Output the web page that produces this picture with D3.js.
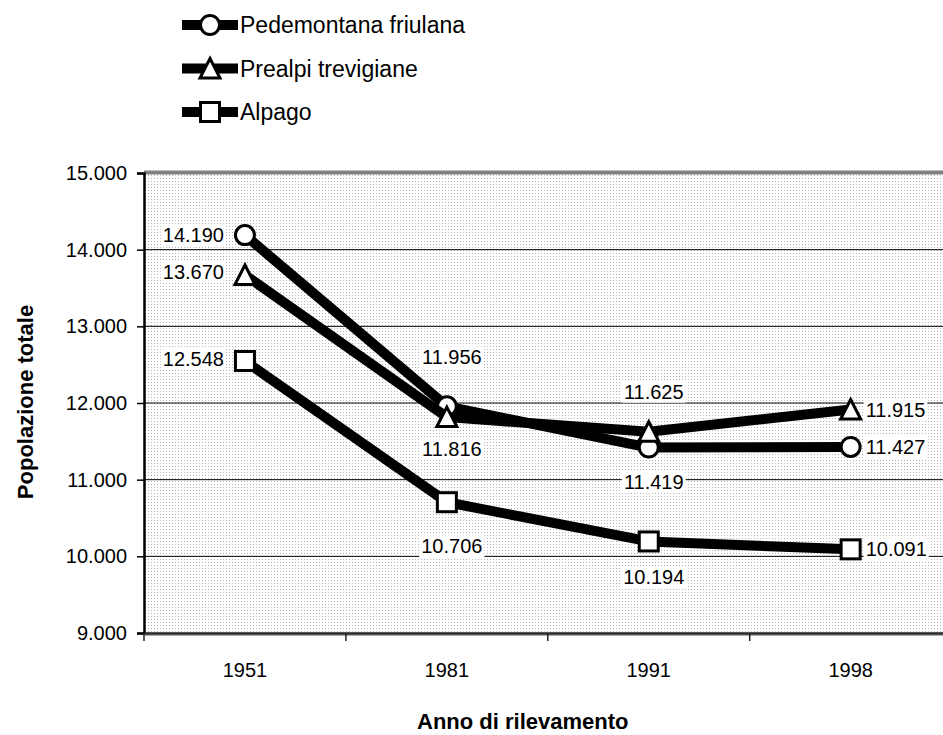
<!DOCTYPE html>
<html lang="it">
<head>
  <meta charset="UTF-8" />
  <title>Popolazione totale</title>
  <script src="https://unpkg.com/d3@7/dist/d3.min.js"></script>
  <style>
    body { margin: 0; background: #fff; }
    svg { display: block; font-family: "Liberation Sans", Arial, sans-serif; }
    .tick text { font-size: 20px; fill: #000; }
  </style>
</head>
<body>
  <svg id="chart" width="943" height="735"></svg>

  <script>
  // --- data ---
  const years = ["1951", "1981", "1991", "1998"];
  const seriesNames = ["Pedemontana friulana", "Prealpi trevigiane", "Alpago"];
  const pedemontana = [14190, 11956, 11419, 11427];
  const prealpi     = [13670, 11816, 11625, 11915];
  const alpago      = [12548, 10706, 10194, 10091];
  const yTicks = [9000, 10000, 11000, 12000, 13000, 14000, 15000];

  // where each value label sits, relative to its marker
  const labelSides = [
    ["left", "above", "below", "right"],
    ["left", "below", "above", "right"],
    ["left", "below", "below", "right"]
  ];
  // vertical offsets (px) for labels
  const labelDy = [
    [0, -49, 34, 0],
    [-3, 32, -40, 0],
    [-2, 44, 36, 0]
  ];

  const series = seriesNames.map((name, i) => ({
    name,
    shape: ["circle", "triangle", "square"][i],
    values: [pedemontana, prealpi, alpago][i]
  }));

  const fmt = d3.formatLocale({ decimal: ",", thousands: ".", grouping: [3], currency: ["€", ""] }).format(",d");

  const svg = d3.select("#chart");
  const plotL = 144, plotR = 951.6, plotT = 173, plotB = 633;

  const x = d3.scaleBand().domain(years).range([plotL, plotR]).padding(0);
  const y = d3.scaleLinear().domain([9000, 15000]).range([plotB, plotT]);
  const cx = d => x(d) + x.bandwidth() / 2;

  // dotted plot background
  const pat = svg.append("defs").append("pattern")
    .attr("id", "dots").attr("width", 3).attr("height", 3)
    .attr("patternUnits", "userSpaceOnUse");
  pat.append("rect").attr("width", 3).attr("height", 3).attr("fill", "#fff");
  pat.append("rect").attr("x", 1).attr("y", 1).attr("width", 1).attr("height", 1).attr("fill", "#b4b4b4");

  svg.append("rect")
    .attr("x", plotL).attr("y", plotT)
    .attr("width", plotR - plotL).attr("height", plotB - plotT)
    .attr("fill", "url(#dots)");

  // gridlines
  svg.append("g")
    .selectAll("line")
    .data(yTicks.slice(1, -1))
    .join("line")
      .attr("x1", plotL).attr("x2", plotR)
      .attr("y1", d => y(d)).attr("y2", d => y(d))
      .attr("stroke", "#000").attr("stroke-width", 1);

  // top border
  svg.append("line")
    .attr("x1", plotL).attr("x2", plotR)
    .attr("y1", plotT - 0.5).attr("y2", plotT - 0.5)
    .attr("stroke", "#808080").attr("stroke-width", 4);

  // y axis
  const yAxis = svg.append("g")
    .attr("transform", `translate(${plotL},0)`)
    .call(d3.axisLeft(y).tickValues(yTicks).tickFormat(fmt).tickSize(7).tickPadding(10));
  yAxis.select(".domain").attr("stroke", "#000").attr("stroke-width", 2.5);
  yAxis.selectAll(".tick line").attr("stroke", "#000").attr("stroke-width", 1.5);

  // x axis
  const xAxis = svg.append("g")
    .attr("transform", `translate(0,${plotB})`)
    .call(d3.axisBottom(x).tickSize(0).tickPadding(30));
  xAxis.select(".domain").remove();
  xAxis.selectAll(".tick text").attr("dy", "0.71em");

  svg.append("line")
    .attr("x1", plotL).attr("x2", plotR)
    .attr("y1", plotB + 1).attr("y2", plotB + 1)
    .attr("stroke", "#555").attr("stroke-width", 3);
  svg.append("line")
    .attr("x1", plotL).attr("x2", plotR)
    .attr("y1", plotB).attr("y2", plotB)
    .attr("stroke", "#000").attr("stroke-width", 1);

  svg.append("g")
    .selectAll("line")
    .data(years)
    .join("line")
      .attr("x1", d => x(d)).attr("x2", d => x(d))
      .attr("y1", plotB).attr("y2", plotB + 8)
      .attr("stroke", "#222").attr("stroke-width", 1.5);

  // axis titles
  svg.append("text")
    .attr("x", (plotL + plotR) / 2 - 25)
    .attr("y", 729)
    .attr("text-anchor", "middle")
    .attr("font-size", 22).attr("font-weight", "bold")
    .text("Anno di rilevamento");

  svg.append("text")
    .attr("transform", "translate(33,402) rotate(-90)")
    .attr("text-anchor", "middle")
    .attr("font-size", 22).attr("font-weight", "bold")
    .text("Popolazione totale");

  // marker shapes
  function marker(sel, shape) {
    if (shape === "circle") {
      sel.append("circle").attr("r", 9.5);
    } else if (shape === "triangle") {
      sel.append("path").attr("d", "M0,-10L10,9.5L-10,9.5Z");
    } else {
      sel.append("rect").attr("x", -9.5).attr("y", -9.5).attr("width", 19).attr("height", 19);
    }
    sel.selectAll("*").attr("fill", "#fff").attr("stroke", "#000").attr("stroke-width", 3);
  }

  const line = d3.line().x((d, i) => cx(years[i])).y(d => y(d));

  series.forEach(s => {
    svg.append("path")
      .datum(s.values)
      .attr("d", line)
      .attr("fill", "none")
      .attr("stroke", "#000")
      .attr("stroke-width", 10)
      .attr("stroke-linejoin", "round");

    s.values.forEach((v, i) => {
      const g = svg.append("g").attr("transform", `translate(${cx(years[i])},${y(v)})`);
      marker(g, s.shape);
    });
  });

  // value labels
  const labelLayer = svg.append("g").attr("font-size", 20);
  series.forEach((s, si) => {
    s.values.forEach((v, i) => {
      const side = labelSides[si][i];
      const px = cx(years[i]), py = y(v) + labelDy[si][i];
      const t = labelLayer.append("text")
        .attr("y", py + 7)
        .text(fmt(v));
      if (side === "left") {
        t.attr("x", px - 21).attr("text-anchor", "end");
      } else if (side === "right") {
        t.attr("x", px + 15).attr("text-anchor", "start");
      } else {
        t.attr("x", px + 5).attr("text-anchor", "middle");
      }
      const b = t.node().getBBox();
      labelLayer.insert("rect", () => t.node())
        .attr("x", b.x - 2).attr("y", b.y)
        .attr("width", b.width + 4).attr("height", b.height)
        .attr("fill", "#fff");
    });
  });

  // legend
  const legend = svg.append("g");
  series.forEach((s, i) => {
    const g = legend.append("g").attr("transform", `translate(0,${25 + i * 43.5})`);
    g.append("line")
      .attr("x1", 182).attr("x2", 238)
      .attr("stroke", "#000").attr("stroke-width", 10);
    const m = g.append("g").attr("transform", "translate(210,0)");
    marker(m, s.shape);
    g.append("text")
      .attr("x", 240).attr("y", 8)
      .attr("font-size", 23)
      .text(s.name);
  });
  </script>
</body>
</html>
